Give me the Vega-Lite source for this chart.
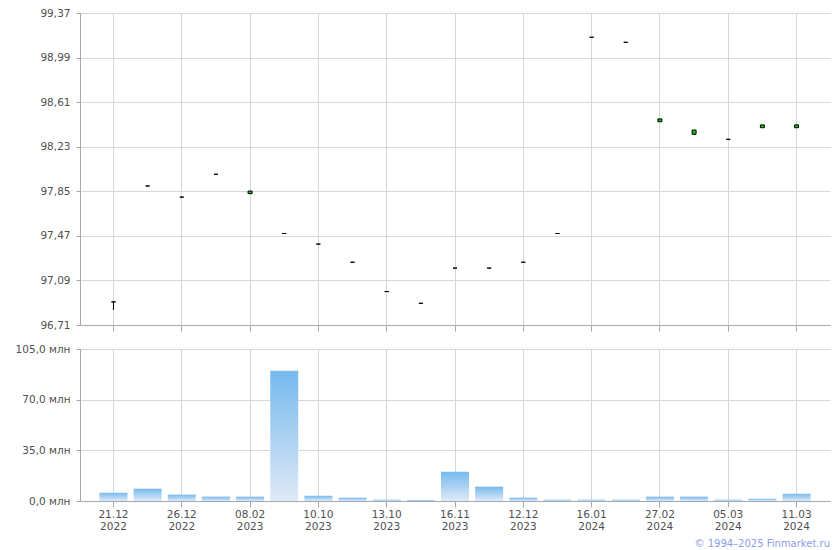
{
  "$schema": "https://vega.github.io/schema/vega-lite/v6.json",
  "autosize": {"type": "pad"},
  "padding": {"left": 15, "top": 8, "right": 5, "bottom": 3},
  "config": {
    "locale": {"number": {"decimal": ",", "thousands": " ", "grouping": [3], "currency": ["", ""]}},
    "font": "DejaVu Sans",
    "view": {"stroke": null},
    "concat": {"spacing": 12},
    "axis": {
      "labelFont": "DejaVu Sans",
      "labelFontSize": 10.5,
      "labelColor": "#505050",
      "gridColor": "#d3d8dc",
      "domainColor": "#a4a8b0",
      "tickColor": "#a4a8b0",
      "title": null
    }
  },
  "data": {
    "values": [
      {"date": "21.12.2022", "open": 96.906, "high": 96.915, "low": 96.838, "close": 96.906, "volume": 5.7},
      {"date": "22.12.2022", "open": 97.895, "high": 97.895, "low": 97.895, "close": 97.895, "volume": 8.5},
      {"date": "26.12.2022", "open": 97.80, "high": 97.80, "low": 97.80, "close": 97.80, "volume": 4.4},
      {"date": "18.01.2023", "open": 97.995, "high": 97.995, "low": 97.995, "close": 97.995, "volume": 3.0},
      {"date": "08.02.2023", "open": 97.830, "high": 97.852, "low": 97.830, "close": 97.852, "volume": 3.0},
      {"date": "15.05.2023", "open": 97.49, "high": 97.49, "low": 97.49, "close": 97.49, "volume": 90.0},
      {"date": "10.10.2023", "open": 97.40, "high": 97.40, "low": 97.40, "close": 97.40, "volume": 3.6},
      {"date": "11.10.2023", "open": 97.245, "high": 97.245, "low": 97.245, "close": 97.245, "volume": 2.3},
      {"date": "13.10.2023", "open": 96.995, "high": 96.995, "low": 96.995, "close": 96.995, "volume": 0.9},
      {"date": "25.10.2023", "open": 96.895, "high": 96.895, "low": 96.895, "close": 96.895, "volume": 0.7},
      {"date": "16.11.2023", "open": 97.195, "high": 97.195, "low": 97.195, "close": 97.195, "volume": 20.2},
      {"date": "28.11.2023", "open": 97.195, "high": 97.195, "low": 97.195, "close": 97.195, "volume": 9.9},
      {"date": "12.12.2023", "open": 97.245, "high": 97.245, "low": 97.245, "close": 97.245, "volume": 2.3},
      {"date": "26.12.2023", "open": 97.49, "high": 97.49, "low": 97.49, "close": 97.49, "volume": 0.9},
      {"date": "16.01.2024", "open": 99.163, "high": 99.163, "low": 99.163, "close": 99.163, "volume": 0.9},
      {"date": "06.02.2024", "open": 99.12, "high": 99.12, "low": 99.12, "close": 99.12, "volume": 0.9},
      {"date": "27.02.2024", "open": 98.443, "high": 98.467, "low": 98.443, "close": 98.467, "volume": 3.0},
      {"date": "29.02.2024", "open": 98.336, "high": 98.372, "low": 98.336, "close": 98.372, "volume": 3.0},
      {"date": "05.03.2024", "open": 98.293, "high": 98.293, "low": 98.293, "close": 98.293, "volume": 0.9},
      {"date": "07.03.2024", "open": 98.392, "high": 98.416, "low": 98.392, "close": 98.416, "volume": 1.6},
      {"date": "11.03.2024", "open": 98.392, "high": 98.416, "low": 98.392, "close": 98.416, "volume": 5.0}
    ]
  },
  "title": {
    "text": "© 1994–2025 Finmarket.ru",
    "orient": "bottom",
    "anchor": "end",
    "font": "DejaVu Sans",
    "fontSize": 10,
    "fontWeight": "normal",
    "color": "#8c9ce6",
    "offset": 7
  },
  "vconcat": [
    {
      "width": 750,
      "height": 312,
      "layer": [
        {
          "mark": {"type": "rule", "color": "#000000", "strokeWidth": 1},
          "encoding": {
            "x": {
              "field": "date", "type": "nominal", "sort": null,
              "scale": {"type": "band", "paddingInner": 0.18, "paddingOuter": 0.57},
              "axis": {
                "values": ["21.12.2022", "26.12.2022", "08.02.2023", "10.10.2023", "13.10.2023", "16.11.2023", "12.12.2023", "16.01.2024", "27.02.2024", "05.03.2024", "11.03.2024"],
                "labels": false, "ticks": true, "tickSize": 6, "grid": true, "bandPosition": 0.5, "domain": true
              }
            },
            "y": {
              "field": "low", "type": "quantitative",
              "scale": {"domain": [96.71, 99.37], "nice": false, "zero": false},
              "axis": {
                "values": [96.71, 97.09, 97.47, 97.85, 98.23, 98.61, 98.99, 99.37],
                "format": ".2f", "tickSize": 4, "labelPadding": 6, "grid": true
              }
            },
            "y2": {"field": "high"}
          }
        },
        {
          "mark": {"type": "bar", "width": 4, "stroke": "#000000", "strokeWidth": 1},
          "encoding": {
            "x": {"field": "date", "type": "nominal", "sort": null},
            "y": {"field": "open", "type": "quantitative"},
            "y2": {"field": "close"},
            "fill": {
              "condition": {"test": "datum.close > datum.open", "value": "#00cc00"},
              "value": "#000000"
            }
          }
        }
      ]
    },
    {
      "width": 750,
      "height": 152,
      "mark": {
        "type": "bar",
        "fill": {
          "gradient": "linear", "x1": 0, "y1": 0, "x2": 0, "y2": 1,
          "stops": [{"offset": 0, "color": "#76b9ee"}, {"offset": 1, "color": "#dfeaf7"}]
        }
      },
      "encoding": {
        "x": {
          "field": "date", "type": "nominal", "sort": null,
          "scale": {"type": "band", "paddingInner": 0.18, "paddingOuter": 0.57},
          "axis": {
            "values": ["21.12.2022", "26.12.2022", "08.02.2023", "10.10.2023", "13.10.2023", "16.11.2023", "12.12.2023", "16.01.2024", "27.02.2024", "05.03.2024", "11.03.2024"],
            "labelExpr": "[slice(datum.value, 0, 5), slice(datum.value, 6)]",
            "labelAngle": 0, "labelBaseline": "top", "labelLineHeight": 12, "labelPadding": 2,
            "tickSize": 6, "grid": true, "bandPosition": 0.5
          }
        },
        "y": {
          "field": "volume", "type": "quantitative",
          "scale": {"domain": [0, 105], "nice": false},
          "axis": {
            "values": [0, 35, 70, 105],
            "labelExpr": "replace(format(datum.value, '.1f'), '.', ',') + ' млн'",
            "tickSize": 4, "labelPadding": 6, "grid": true
          }
        }
      }
    }
  ]
}
